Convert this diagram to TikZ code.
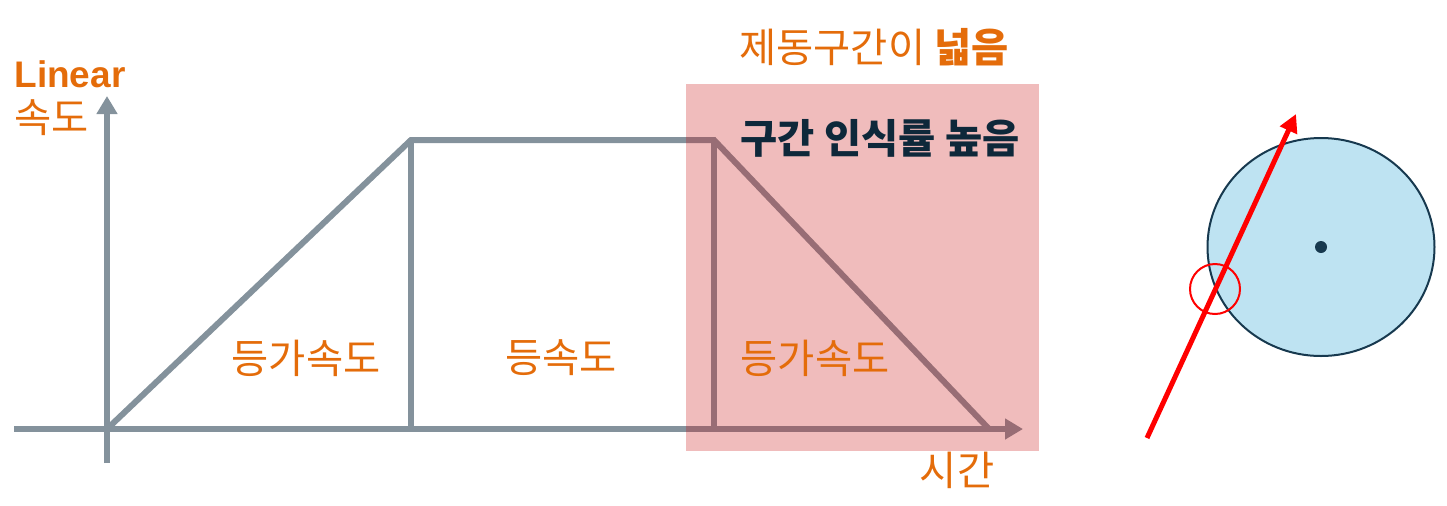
\documentclass[tikz,border=0pt]{standalone}
\usepackage{fontspec}
\setmainfont{Noto Sans CJK KR}
\newfontfamily\latinfont{Liberation Sans}
\usepackage{xcolor}
\usetikzlibrary{arrows.meta,shapes.geometric}

\definecolor{axisgray}{RGB}{132,146,156}
\definecolor{labelorange}{RGB}{228,108,10}
\definecolor{darknavy}{RGB}{14,40,58}
\definecolor{brakered}{RGB}{203,20,20}
\definecolor{wheelblue}{RGB}{190,227,242}
\definecolor{wheeledge}{RGB}{23,57,79}

\begin{document}
\begin{tikzpicture}[x=0.5pt, y=-0.5pt,
    axis/.style={draw=axisgray, line width=3pt, -{Triangle[length=9pt,width=10pt]}},
    profile/.style={draw=axisgray, line width=3pt},
    lbl/.style={text=labelorange, inner sep=0pt, font=\fontsize{20.2}{24}\selectfont},
    zone/.style={fill=brakered, fill opacity=0.285}]
  \useasboundingbox (0,0) rectangle (1447,505);

  % axes
  \coordinate (xstart) at (14,429);
  \coordinate (xend) at (1023,429);
  \coordinate (ystart) at (107,463);
  \coordinate (yend) at (107,96);
  \draw[axis] (xstart) -- (xend);
  \draw[axis] (ystart) -- (yend);

  % speed profile
  \coordinate (O) at (107,429);
  \coordinate (A) at (411,140);
  \coordinate (B) at (714,140);
  \coordinate (C) at (989,429);
  \coordinate (Afoot) at (411,429);
  \coordinate (Bfoot) at (714,429);
  \draw[profile] (O) -- (A) -- (B) -- (C);
  \draw[profile] (A) -- (Afoot);
  \draw[profile] (B) -- (Bfoot);

  % braking zone
  \node[zone, minimum width=176.5pt, minimum height=183.5pt, inner sep=0pt] (brake) at (862.5,267.5) {};

  \node[lbl, font=\fontsize{18.5}{22}\selectfont\latinfont\bfseries, anchor=west] (linear) at (14,74) {Linear};
  \node[lbl, anchor=west] (speed) at (14,118) {속도};
  \node[lbl] (accel) at (306,358) {등가속도};
  \node[lbl] (const) at (561,358) {등속도};
  \node[lbl] (decel) at (815,358) {등가속도};
  \node[lbl] (time) at (957,470) {시간};
  \node[lbl] (wide) at (874,47) {제동구간이 \textbf{넓음}};
  \node[lbl, text=darknavy, font=\fontsize{20.2}{24}\selectfont\bfseries] (recog) at (880,138) {구간 인식률 높음};

  % wheel
  \node[draw=wheeledge, fill=wheelblue, line width=1pt, ellipse, minimum width=113.5pt, minimum height=109pt, inner sep=0pt] (wheel) at (1321,247) {};
  \fill[wheeledge] (wheel.center) circle[radius=6];
  \coordinate (rstart) at (1147,438);
  \coordinate (rend) at (1296,114);
  \draw[red, line width=2.5pt, -{Triangle[length=9pt,width=9pt]}] (rstart) -- (rend);
  \node[draw=red, line width=1pt, circle, minimum size=25pt, inner sep=0pt] (contact) at (1215,289) {};
\end{tikzpicture}
\end{document}
